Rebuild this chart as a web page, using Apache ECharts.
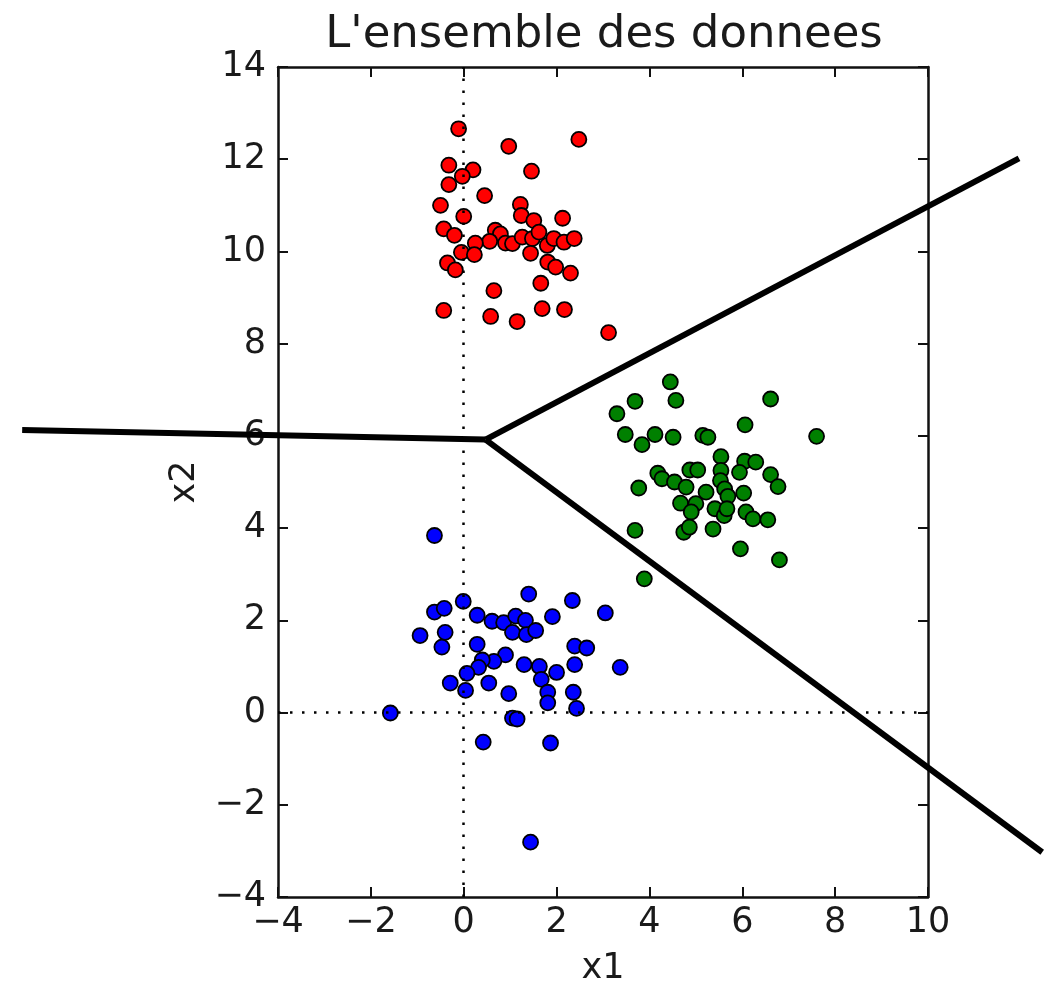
<!DOCTYPE html>
<html>
<head>
<meta charset="utf-8">
<script src="https://cdn.jsdelivr.net/npm/echarts@6/dist/echarts.min.js"></script>
<style>
  html, body { margin: 0; padding: 0; background: #ffffff; }
  #chart { width: 1053px; height: 984px; }
</style>
</head>
<body>
<div id="chart"></div>
<script>
// Cluster of class 1 (red) — [x1, x2]
const redPoints = [
  [-0.11, 12.66], [0.97, 12.28], [2.48, 12.43], [-0.32, 11.87], [0.20, 11.77],
  [-0.03, 11.63], [-0.32, 11.45], [1.46, 11.74], [0.45, 11.21], [-0.50, 11.00],
  [1.22, 11.02], [0.00, 10.76], [1.24, 10.78], [1.51, 10.67], [2.13, 10.72],
  [-0.43, 10.49], [-0.20, 10.35], [0.68, 10.46], [0.79, 10.38], [0.56, 10.22],
  [0.25, 10.18], [0.90, 10.18], [1.05, 10.17], [1.26, 10.31], [1.48, 10.28],
  [1.62, 10.42], [1.80, 10.13], [1.94, 10.28], [2.16, 10.20], [2.38, 10.28],
  [1.44, 9.96], [-0.05, 9.98], [0.23, 9.93], [-0.35, 9.75], [-0.18, 9.60],
  [1.81, 9.77], [1.98, 9.66], [2.30, 9.53], [1.66, 9.31], [0.65, 9.15],
  [-0.43, 8.72], [1.69, 8.76], [2.17, 8.74], [0.58, 8.59], [1.15, 8.48],
  [3.12, 8.24]
];

// Cluster of class 2 (green)
const greenPoints = [
  [4.45, 7.17], [4.57, 6.77], [3.69, 6.75], [3.30, 6.48], [6.61, 6.80],
  [6.06, 6.24], [3.48, 6.03], [4.12, 6.03], [4.51, 5.97], [5.15, 6.01],
  [5.26, 5.97], [3.84, 5.81], [7.60, 5.99], [5.54, 5.55], [6.05, 5.45],
  [6.29, 5.43], [4.87, 5.26], [5.04, 5.26], [5.54, 5.25], [5.94, 5.21],
  [4.18, 5.19], [4.27, 5.07], [4.54, 5.00], [5.53, 5.03], [6.61, 5.16],
  [6.77, 4.90], [3.77, 4.87], [4.79, 4.89], [5.22, 4.78], [5.62, 4.85],
  [5.69, 4.69], [6.03, 4.76], [4.67, 4.54], [5.00, 4.53], [4.90, 4.35],
  [5.41, 4.42], [5.61, 4.27], [5.67, 4.42], [6.08, 4.35], [6.23, 4.20],
  [6.55, 4.18], [4.74, 3.91], [4.86, 4.02], [5.37, 3.98], [3.69, 3.95],
  [5.96, 3.55], [6.80, 3.31], [3.89, 2.90]
];

// Cluster of class 3 (blue)
const bluePoints = [
  [-0.63, 3.84], [1.40, 2.57], [2.34, 2.43], [3.05, 2.16], [-0.01, 2.41],
  [-0.63, 2.18], [-0.42, 2.26], [0.29, 2.11], [0.61, 1.98], [0.86, 1.95],
  [1.12, 2.09], [1.33, 2.00], [1.91, 2.08], [1.05, 1.74], [1.35, 1.69],
  [1.55, 1.78], [-0.94, 1.67], [-0.40, 1.74], [-0.47, 1.42], [0.29, 1.48],
  [2.39, 1.44], [2.65, 1.40], [3.37, 0.98], [0.90, 1.25], [0.65, 1.11],
  [0.40, 1.14], [0.32, 0.98], [0.07, 0.85], [1.30, 1.04], [1.63, 1.00],
  [2.00, 0.87], [2.39, 1.04], [1.67, 0.72], [-0.29, 0.64], [0.54, 0.64],
  [0.04, 0.48], [0.97, 0.41], [1.81, 0.44], [2.36, 0.44], [1.81, 0.21],
  [2.43, 0.09], [-1.58, -0.01], [1.05, -0.12], [1.15, -0.14], [0.42, -0.64],
  [1.87, -0.66], [1.44, -2.81]
];

// Decision boundaries: each segment is [x1 start, x2 start, x1 end, x2 end]
const boundarySegments = [
  [-9.51, 6.13, 0.47, 5.92],
  [0.47, 5.92, 11.96, 12.02],
  [0.47, 5.92, 12.46, -3.03]
];

// Axis ticks
const xTicks = [-4, -2, 0, 2, 4, 6, 8, 10];
const yTicks = [-4, -2, 0, 2, 4, 6, 8, 10, 12, 14];

const FONT = "'DejaVu Sans', sans-serif";
const TEXT = '#1a1a1a';
const fmt = v => String(v).replace('-', '\u2212');

const frameLine = { show: true, onZero: false, lineStyle: { color: '#111', width: 2.5 } };
const innerTick = { show: true, inside: true, length: 10, lineStyle: { color: '#111', width: 2 } };

function xAxisDef(position, withLabels) {
  return {
    type: 'value', position,
    min: xTicks[0], max: xTicks[xTicks.length - 1], interval: xTicks[1] - xTicks[0],
    axisLine: frameLine, axisTick: innerTick, splitLine: { show: false },
    axisLabel: withLabels
      ? { show: true, formatter: fmt, color: TEXT, fontFamily: FONT, fontSize: 35, margin: 8 }
      : { show: false },
    name: withLabels ? 'x1' : '', nameLocation: 'middle', nameGap: 54,
    nameTextStyle: { color: TEXT, fontFamily: FONT, fontSize: 35 }
  };
}
function yAxisDef(position, withLabels) {
  return {
    type: 'value', position,
    min: yTicks[0], max: yTicks[yTicks.length - 1], interval: yTicks[1] - yTicks[0],
    axisLine: frameLine, axisTick: innerTick, splitLine: { show: false },
    axisLabel: withLabels
      ? { show: true, formatter: fmt, color: TEXT, fontFamily: FONT, fontSize: 35, margin: 12 }
      : { show: false },
    name: withLabels ? 'x2' : '', nameLocation: 'middle', nameGap: 76,
    nameTextStyle: { color: TEXT, fontFamily: FONT, fontSize: 35 }
  };
}

function cluster(points, color) {
  return {
    type: 'scatter', data: points, symbol: 'circle', symbolSize: 15,
    xAxisIndex: 0, yAxisIndex: 0, z: 4,
    itemStyle: { color, borderColor: '#000', borderWidth: 1.8, opacity: 1 },
    emphasis: { disabled: true }
  };
}

const chart = echarts.init(document.getElementById('chart'), null, { renderer: 'canvas' });
chart.setOption({
  backgroundColor: '#ffffff',
  animation: false,
  title: {
    text: "L'ensemble des donnees",
    left: 599, top: 8, textAlign: 'center',
    textStyle: { color: TEXT, fontFamily: FONT, fontSize: 45, fontWeight: 'normal' }
  },
  grid: {
    left: 278, top: 67, width: 650, height: 830,
    containLabel: false, outerBoundsMode: 'none'
  },
  xAxis: [xAxisDef('bottom', true), xAxisDef('top', false)],
  yAxis: [yAxisDef('left', true), yAxisDef('right', false)],
  series: [
    {
      // dotted reference lines through x1 = 0 and x2 = 0
      type: 'scatter', data: [], xAxisIndex: 0, yAxisIndex: 0, z: 2,
      markLine: {
        silent: true, symbol: 'none', animation: false,
        label: { show: false },
        lineStyle: { color: '#000', width: 2.5, type: [2.5, 9.5] },
        data: [{ xAxis: 0 }, { yAxis: 0 }]
      }
    },
    cluster(redPoints, '#ff0000'),
    cluster(greenPoints, '#008000'),
    cluster(bluePoints, '#0000ff'),
    {
      // boundary segments run past the plotting frame
      type: 'custom', data: boundarySegments, clip: false,
      xAxisIndex: 0, yAxisIndex: 0, z: 5, silent: true,
      encode: { x: [0, 2], y: [1, 3] },
      renderItem: (params, api) => {
        const p0 = api.coord([api.value(0), api.value(1)]);
        const p1 = api.coord([api.value(2), api.value(3)]);
        return {
          type: 'line',
          shape: { x1: p0[0], y1: p0[1], x2: p1[0], y2: p1[1] },
          style: { stroke: '#000', lineWidth: 6, lineCap: 'butt' }
        };
      }
    }
  ]
});
</script>
</body>
</html>
